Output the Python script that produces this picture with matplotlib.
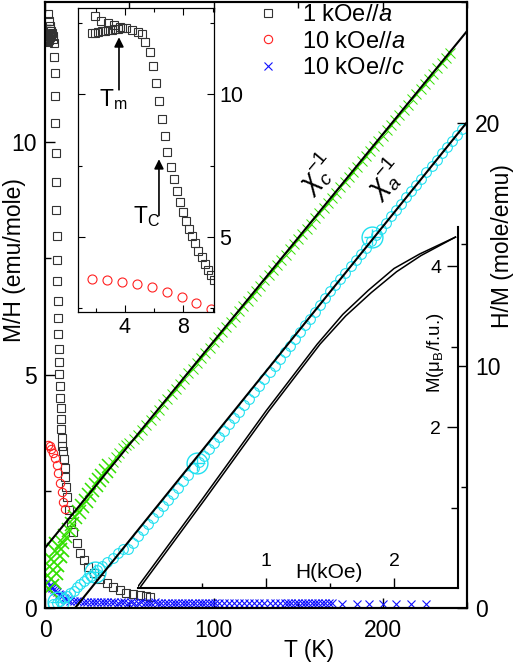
import matplotlib
matplotlib.use("Agg")
import matplotlib.pyplot as plt
import numpy as np
from matplotlib.ticker import FixedLocator

plt.rcParams['font.family'] = ['Liberation Sans', 'DejaVu Sans']
plt.rcParams['mathtext.fontset'] = 'custom'
plt.rcParams['mathtext.rm'] = 'Liberation Sans'
plt.rcParams['mathtext.it'] = 'Liberation Sans:italic'
plt.rcParams['mathtext.bf'] = 'Liberation Sans:bold'

# ---- 1 kOe // a, M/H (emu/mole): low-T branches (ZFC / FC) and tail ----
sq_fc_T = [1.95, 2.36, 2.81, 3.25, 3.66, 4.07]
sq_fc_M = [12.75, 12.59, 12.49, 12.42, 12.37, 12.33]
sq_zfc_T = [1.72, 1.95, 2.17, 2.40, 2.63, 2.86, 3.09, 3.32, 3.54, 3.77]
sq_zfc_M = [12.14, 12.16, 12.19, 12.21, 12.23, 12.25, 12.27, 12.29, 12.30, 12.31]
sq_T = [4.46, 4.87, 5.15, 5.40, 5.72, 5.94, 6.11, 6.31, 6.54, 6.72, 6.90, 7.16,
        7.36, 7.55, 7.78, 7.96, 8.17, 8.39, 8.58, 8.80, 9.03, 9.26, 9.49, 9.72,
        9.90, 10.11, 10.6, 11.1, 11.6, 12.1, 12.6, 13.2, 14.0, 15.2, 16.8, 18.8,
        21.0, 23.0, 25.4, 28.8, 32.7, 36.6, 40.5, 44.4, 48.2, 52.1, 56.1, 60.0, 62.0]
sq_M = [12.26, 12.20, 12.11, 11.83, 11.47, 10.99, 10.41, 9.77, 9.14, 8.53, 7.98, 7.46,
        7.01, 6.59, 6.23, 5.88, 5.56, 5.28, 5.02, 4.77, 4.51, 4.28, 4.06, 3.85,
        3.65, 3.48, 3.36, 3.20, 3.00, 2.82, 2.60, 2.39, 2.10, 1.85, 1.62, 1.40,
        1.18, 1.02, 0.89, 0.74, 0.62, 0.53, 0.46, 0.39, 0.33, 0.30, 0.28, 0.26, 0.24]

# ---- 10 kOe // a, M/H ----
ra_T = [1.76, 2.75, 3.78, 4.80, 5.83, 6.86, 7.89, 8.87, 9.88, 10.8, 11.6]
ra_M = [3.50, 3.48, 3.42, 3.33, 3.22, 3.07, 2.89, 2.68, 2.48, 2.28, 2.12]

# ---- 10 kOe // c, M/H ----
bc_T = [2.0, 2.8, 3.6, 4.4, 5.2, 6.0, 7.0, 8.0, 9.0, 10.0, 11.0, 12.0, 13.0,
        15, 17, 19, 21, 23, 25, 27, 29, 31, 33, 35, 37, 39, 41, 43, 45, 47, 49,
        51, 53, 55, 57, 59, 61, 63, 65, 67, 69, 71, 73, 75, 77, 79, 81, 83, 85,
        87, 89, 91, 93, 95, 97, 99, 101, 103, 106, 109, 112, 115, 118, 121, 124,
        127, 130, 133, 136, 139, 142, 144, 146, 148, 150, 152, 154, 156, 158, 160,
        162, 164, 166, 168, 170, 176, 185, 192, 200, 208, 217, 226]
bc_M = [0.55, 0.50, 0.46, 0.42, 0.40, 0.37, 0.34, 0.31, 0.28, 0.25, 0.22, 0.20, 0.18,
        0.16, 0.15, 0.14, 0.14, 0.13, 0.13, 0.13, 0.12, 0.12, 0.13, 0.12, 0.12, 0.12,
        0.12, 0.11, 0.12, 0.12, 0.11, 0.12, 0.11, 0.11, 0.12, 0.11, 0.11, 0.11, 0.12,
        0.11, 0.11, 0.11, 0.11, 0.10, 0.11, 0.11, 0.11, 0.11, 0.10, 0.11, 0.11, 0.11,
        0.10, 0.11, 0.11, 0.10, 0.11, 0.11, 0.10, 0.11, 0.10, 0.10, 0.11, 0.10, 0.10,
        0.10, 0.11, 0.10, 0.10, 0.10, 0.10, 0.11, 0.10, 0.10, 0.10, 0.10, 0.10, 0.10,
        0.10, 0.10, 0.10, 0.10, 0.10, 0.10, 0.10, 0.09, 0.09, 0.09, 0.09, 0.09, 0.09,
        0.09]

# ---- chi_c^-1 (H/M, mole/emu) ----
gc_T = [2.5, 3.5, 4.5, 5.5, 7, 8.5, 10, 12, 14, 16, 18, 20, 22, 24, 26, 28, 30, 32,
        34, 36, 38, 40, 42, 44, 46, 48, 50, 52.5, 55, 57.5, 60, 62.5, 65, 67.5, 70,
        72.5, 75, 77.5, 80, 82.5, 85, 87.5, 90, 92.5, 95, 97.5, 100, 102.5, 105,
        107.5, 110, 112.5, 115, 117.5, 120, 122.5, 125, 127.5, 130, 132.5, 135,
        137.5, 140, 142.5, 145, 147.5, 150, 152.5, 155, 157.5, 160, 162.5, 165,
        167.5, 170, 172.5, 175, 177.5, 180, 182.5, 185, 187.5, 190, 192.5, 195,
        197.5, 200, 202.5, 205, 207.5, 210, 212.5, 215, 217.5, 220, 222.5, 225,
        227.5, 230, 232.5, 235, 237.5, 240]
gc_HM = [0.80, 1.20, 1.55, 1.90, 2.25, 2.50, 2.72, 2.98, 3.22, 3.48, 3.74, 3.98, 4.20,
         4.42, 4.65, 4.86, 5.08, 5.28, 5.46, 5.66, 5.86, 6.04, 6.22, 6.40, 6.58, 6.74,
         6.82, 6.98, 7.12, 7.34, 7.55, 7.76, 7.98, 8.18, 8.40, 8.62, 8.82, 9.04, 9.24,
         9.46, 9.68, 9.88, 10.10, 10.32, 10.52, 10.74, 10.96, 11.16, 11.38, 11.60,
         11.80, 12.02, 12.24, 12.44, 12.66, 12.88, 13.08, 13.30, 13.52, 13.72, 13.94,
         14.16, 14.36, 14.58, 14.80, 15.00, 15.22, 15.44, 15.64, 15.86, 16.08, 16.28,
         16.50, 16.72, 16.92, 17.14, 17.36, 17.56, 17.78, 18.00, 18.20, 18.42, 18.64,
         18.84, 19.06, 19.28, 19.48, 19.70, 19.92, 20.12, 20.34, 20.56, 20.76, 20.98,
         21.20, 21.40, 21.62, 21.84, 22.04, 22.26, 22.48, 22.68, 22.90]

# ---- chi_a^-1 (H/M) ----
ca_T = [5, 7, 9, 11, 13, 15, 17, 19, 21, 23, 25, 27, 29, 31, 34, 37, 40, 43, 46, 49,
        52, 55, 58, 61, 64, 67, 70, 73, 76, 79, 82, 85, 88, 91, 94, 97, 100, 103, 106,
        109, 112, 115, 118, 121, 124, 127, 130, 133, 136, 139, 142, 145, 148, 151,
        154, 157, 160, 163, 166, 169, 172, 175, 178, 181, 184, 187, 190, 193, 196,
        199, 202, 205, 208, 211, 214, 217, 220, 223, 226, 229, 232, 235, 238, 241,
        244, 247]
ca_HM = [0.18, 0.22, 0.30, 0.40, 0.50, 0.62, 0.72, 0.85, 0.98, 1.10, 1.22, 1.33, 1.45,
         1.56, 1.72, 1.90, 2.07, 2.25, 2.42, 2.45, 2.70, 2.95, 3.20, 3.45, 3.70, 3.95,
         4.20, 4.45, 4.70, 4.97, 5.23, 5.50, 5.76, 6.02, 6.28, 6.54, 6.80, 7.06, 7.32,
         7.58, 7.84, 8.10, 8.36, 8.62, 8.90, 9.17, 9.44, 9.72, 10.00, 10.28, 10.55,
         10.82, 11.10, 11.38, 11.66, 11.94, 12.22, 12.50, 12.78, 13.06, 13.31, 13.57,
         13.83, 14.09, 14.35, 14.61, 14.87, 15.12, 15.38, 15.64, 15.90, 16.16, 16.42,
         16.68, 16.94, 17.20, 17.45, 17.71, 17.97, 18.23, 18.49, 18.75, 19.01, 19.26,
         19.52, 19.78]
big_T = [7.9, 29.5, 89.8, 194]
big_HM = [0.26, 1.50, 5.98, 15.3]

# Curie-Weiss fits (end points)
fit_c_T = [0, 250]
fit_c_HM = [2.48, 23.8]
fit_a_T = [17.8, 250]
fit_a_HM = [0.0, 20.04]

# ---- M(H) inset ----
mh_up_H = [0.0, 0.5, 1.0, 1.4, 1.6, 1.8, 2.0, 2.2, 2.48]
mh_up_M = [0.02, 1.10, 2.20, 3.03, 3.40, 3.70, 3.97, 4.15, 4.36]
mh_dn_H = [0.022, 0.522, 1.022, 1.422, 1.622, 1.822, 2.02, 2.21, 2.48]
mh_dn_M = [0.02, 1.10, 2.20, 3.03, 3.38, 3.67, 3.93, 4.13, 4.36]

SQ = '#333333'
RED = '#ff2020'
BLUE = '#1010ff'
GREEN = '#33e000'
CYAN = '#20e0f0'

fig = plt.figure(figsize=(5.15, 6.66), dpi=100)
ax = fig.add_axes([0.0874, 0.0871, 0.8194, 0.9099])
ax2 = ax.twinx()

# left axis data
ax.plot(sq_fc_T, sq_fc_M, 's', mfc='none', mec=SQ, ms=5.5, mew=0.8)
ax.plot(sq_zfc_T, sq_zfc_M, 's', mfc='none', mec=SQ, ms=5.5, mew=0.8)
ax.plot(sq_T, sq_M, 's', mfc='none', mec=SQ, ms=5.5, mew=0.8, label='1 kOe//$a$')
ax.plot(ra_T, ra_M, 'o', mfc='none', mec=RED, ms=6, mew=0.8, label='10 kOe//$a$')
ax.plot(bc_T, bc_M, 'x', color=BLUE, ms=5.5, mew=0.8, label='10 kOe//$c$')

# right axis data
gT = np.array(gc_T)
gH = np.array(gc_HM)
low = gT < 9
mid = (gT >= 9) & (gT < 40)
high = gT >= 40
ax2.plot(gT[low], gH[low], 'x', color=GREEN, ms=14, mew=1.3)
ax2.plot(gT[mid], gH[mid], 'x', color=GREEN, ms=10, mew=1.1)
ax2.plot(gT[high], gH[high], 'x', color=GREEN, ms=7, mew=0.7)
ax2.plot(ca_T, ca_HM, 'o', mfc='none', mec=CYAN, ms=7, mew=0.8)
ax2.plot(big_T, big_HM, 'o', mfc='none', mec=CYAN, ms=15, mew=1.0)
ax2.plot(big_T, big_HM, '+', color=CYAN, ms=11, mew=1.0)
ax2.plot(fit_c_T, fit_c_HM, '-', color='k', lw=1.5)
ax2.plot(fit_a_T, fit_a_HM, '-', color='k', lw=1.5)

ax.set_xlim(0, 250)
ax.set_ylim(0, 13)
ax2.set_ylim(0, 25)

ax.xaxis.set_major_locator(FixedLocator([0, 100, 200]))
ax.xaxis.set_minor_locator(FixedLocator([50, 150, 250]))
ax.yaxis.set_major_locator(FixedLocator([0, 5, 10]))
ax.yaxis.set_minor_locator(FixedLocator([2.5, 7.5, 12.5]))
ax2.yaxis.set_major_locator(FixedLocator([0, 10, 20]))
ax2.yaxis.set_minor_locator(FixedLocator([5, 15, 25]))

ax.tick_params(which='both', direction='in', top=True, right=False, width=1.0,
               labelsize=16.5)
ax.tick_params(axis='y', which='both', pad=6)
ax.tick_params(axis='x', which='both', pad=8)
ax.tick_params(which='major', length=7)
ax.tick_params(which='minor', length=4)
ax2.tick_params(which='both', direction='in', width=1.0, labelsize=16.5, pad=6)
ax2.tick_params(which='major', length=7)
ax2.tick_params(which='minor', length=4)
for a in (ax, ax2):
    for s in a.spines.values():
        s.set_linewidth(1.5)

fig.text(15 / 515, 1 - 260 / 666, 'M/H (emu/mole)', rotation=90, fontsize=16.5,
         ha='center', va='center')
fig.text(502 / 515, 1 - 246 / 666, 'H/M (mole/emu)', rotation=90, fontsize=16.5,
         ha='center', va='center')
fig.text(309 / 515, 1 - 650 / 666, 'T (K)', fontsize=16.5, ha='center', va='center')

fig.text(318 / 515, 1 - 175 / 666, r'$\chi_c^{-1}$', rotation=50, fontsize=20,
         ha='center', va='center')
fig.text(386 / 515, 1 - 180 / 666, r'$\chi_a^{-1}$', rotation=50, fontsize=20,
         ha='center', va='center')

ax.legend(loc='upper left', bbox_to_anchor=(257 / 515, 1 - 4 / 666),
          bbox_transform=fig.transFigure, frameon=False, fontsize=17,
          borderaxespad=0, borderpad=0, handlelength=0.95, handletextpad=0.95,
          labelspacing=0.2, numpoints=1)

# ---- inset: low-T M/H ----
ins = fig.add_axes([0.152, 0.532, 0.2635, 0.4556])
ins.plot(sq_fc_T, sq_fc_M, 's', mfc='none', mec=SQ, ms=6, mew=0.8)
ins.plot(sq_zfc_T, sq_zfc_M, 's', mfc='none', mec=SQ, ms=6, mew=0.8)
ins.plot(sq_T, sq_M, 's', mfc='none', mec=SQ, ms=6, mew=0.8)
ins.plot(ra_T, ra_M, 'o', mfc='none', mec=RED, ms=6.5, mew=0.8)
ins.set_xlim(0.8, 10.1)
ins.set_ylim(2.37, 13.02)
ins.xaxis.set_major_locator(FixedLocator([4, 8]))
ins.xaxis.set_minor_locator(FixedLocator([2, 6, 10]))
ins.yaxis.set_major_locator(FixedLocator([5, 10]))
ins.yaxis.set_minor_locator(FixedLocator([2.5, 7.5, 12.5]))
ins.tick_params(which='both', direction='in', top=True, right=True, left=True,
                labelleft=False, labelright=True, labelsize=15.5, width=0.8)
ins.tick_params(which='major', length=5, pad=4)
ins.tick_params(which='minor', length=3)
for s in ins.spines.values():
    s.set_linewidth(0.9)
ins.annotate('', xy=(3.59, 12.1), xytext=(3.59, 10.06),
             arrowprops=dict(arrowstyle='-|>', color='k', lw=1.2,
                             mutation_scale=14))
ins.annotate('', xy=(6.33, 7.82), xytext=(6.33, 5.65),
             arrowprops=dict(arrowstyle='-|>', color='k', lw=1.2,
                             mutation_scale=14))
ins.text(3.18, 9.8, r'$\mathrm{T_m}$', fontsize=16.5, ha='center', va='center')
ins.text(5.51, 5.72, r'$\mathrm{T_C}$', fontsize=16.5, ha='center', va='center')

# ---- inset: M(H) ----
mh = fig.add_axes([0.268, 0.1171, 0.6214, 0.542])
mh.patch.set_visible(False)
mh.plot(mh_up_H, mh_up_M, '-', color='k', lw=1.1)
mh.plot(mh_dn_H, mh_dn_M, '-', color='k', lw=1.1)
mh.set_xlim(0, 2.5)
mh.set_ylim(0, 4.485)
mh.spines['top'].set_visible(False)
mh.spines['left'].set_visible(False)
mh.spines['bottom'].set_linewidth(1.5)
mh.spines['right'].set_linewidth(1.5)
mh.xaxis.set_major_locator(FixedLocator([1, 2]))
mh.xaxis.set_minor_locator(FixedLocator([0.5, 1.5]))
mh.yaxis.set_major_locator(FixedLocator([2, 4]))
mh.yaxis.set_minor_locator(FixedLocator([1, 3]))
mh.yaxis.tick_right()
mh.tick_params(which='both', direction='in', labelsize=14, width=1.0)
mh.tick_params(axis='x', which='major', length=7, pad=-25)
mh.tick_params(axis='x', which='minor', length=3.5)
mh.tick_params(axis='y', which='major', length=8, pad=-20)
mh.tick_params(axis='y', which='minor', length=5)
fig.text(329 / 515, 1 - 572 / 666, 'H(kOe)', fontsize=15, ha='center', va='center')
fig.text(436 / 515, 1 - 353 / 666, r'M($\mathrm{\mu_B}$/f.u.)', rotation=90,
         fontsize=13.5, ha='center', va='center')

fig.savefig('out.png', dpi=100)
